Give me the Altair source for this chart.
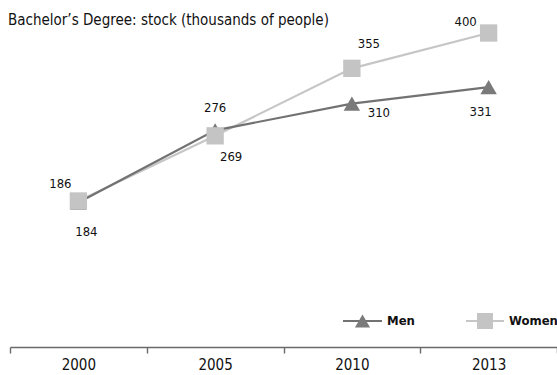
import altair as alt
import pandas as pd

# Bachelor's degree holders, thousands of people
years = ["2000", "2005", "2010", "2013"]
men = [184, 276, 310, 331]
women = [186, 269, 355, 400]

series_names = ["Men", "Women"]
line_colors = {"Men": "#727272", "Women": "#c6c6c6"}
marker_colors = {"Men": "#7a7a7a", "Women": "#c4c4c4"}
marker_shapes = {"Men": "triangle-up", "Women": "square"}
marker_sizes = {"Men": 270, "Women": 300}

# where each value label sits relative to its marker (dx, dy in pixels)
label_offsets = {
    ("Men", "2000"): (8, 29),
    ("Men", "2005"): (0, -22),
    ("Men", "2010"): (27, 9),
    ("Men", "2013"): (-8, 25),
    ("Women", "2000"): (-18, -17),
    ("Women", "2005"): (16, 21),
    ("Women", "2010"): (17, -24),
    ("Women", "2013"): (-23, -11),
}

FONT = "DejaVu Sans Condensed, sans-serif"
TITLE = "Bachelor\u2019s Degree: stock (thousands of people)"

rows = []
for name, vals in (("Men", men), ("Women", women)):
    for yr, v in zip(years, vals):
        rows.append({"year": yr, "series": name, "value": v})
df = pd.DataFrame(rows)

x_enc = alt.X(
    "year:O",
    scale=alt.Scale(type="band", domain=years, paddingInner=0, paddingOuter=0),
    axis=alt.Axis(
        title=None,
        tickBand="extent",
        labelAngle=0,
        labelFont=FONT,
        labelFontSize=15,
        labelColor="#111111",
        labelPadding=4,
        domainColor="#6a6a6a",
        domainWidth=1.6,
        tickColor="#6a6a6a",
        tickWidth=1.4,
        tickSize=6,
        grid=False,
    ),
)
y_enc = alt.Y(
    "value:Q",
    scale=alt.Scale(domain=[0, 400], nice=False, zero=True),
    axis=None,
)

base = alt.Chart(df).encode(x=x_enc, y=y_enc)

layers = []
# lines first, then markers (women's markers on top)
for name in ["Women", "Men"]:
    layers.append(
        base.transform_filter(alt.datum.series == name).mark_line(
            color=line_colors[name], strokeWidth=2.2
        )
    )
for name in ["Men", "Women"]:
    layers.append(
        base.transform_filter(alt.datum.series == name).mark_point(
            shape=marker_shapes[name],
            size=marker_sizes[name],
            filled=True,
            opacity=1,
            color=marker_colors[name],
        )
    )

# value labels
for (name, yr), (dx, dy) in label_offsets.items():
    layers.append(
        base.transform_filter(
            (alt.datum.series == name) & (alt.datum.year == yr)
        )
        .mark_text(
            dx=dx,
            dy=dy,
            font=FONT,
            fontSize=13,
            color="#111111",
        )
        .encode(text="value:Q")
    )

# legend: short line with marker, then series name
legend_df = pd.DataFrame({"series": series_names})
legend_pos = {"Men": (333, 372), "Women": (456, 494)}
legend_y = 321 - 33
for name in series_names:
    x0, x1 = legend_pos[name]
    lg = alt.Chart(legend_df).transform_filter(alt.datum.series == name)
    layers.append(
        lg.mark_rule(color=line_colors[name], strokeWidth=2.2).encode(
            x=alt.value(x0), x2=alt.value(x1), y=alt.value(legend_y)
        )
    )
    layers.append(
        lg.mark_point(
            shape=marker_shapes[name],
            size=marker_sizes[name] * 0.85,
            filled=True,
            opacity=1,
            color=marker_colors[name],
        ).encode(x=alt.value((x0 + x1) / 2), y=alt.value(legend_y))
    )
    layers.append(
        lg.mark_text(
            align="left",
            baseline="middle",
            font=FONT,
            fontSize=13,
            fontWeight="bold",
            color="#111111",
        ).encode(x=alt.value(x1 + 5), y=alt.value(legend_y), text="series:N")
    )

# chart heading, drawn above the plot area
layers.append(
    alt.Chart(pd.DataFrame({"t": [TITLE]}))
    .mark_text(
        align="left",
        baseline="alphabetic",
        font=FONT,
        fontSize=15,
        color="#111111",
    )
    .encode(x=alt.value(-2), y=alt.value(-8), text="t:N")
)

chart = (
    alt.layer(*layers)
    .properties(
        width=547,
        height=314,
        autosize=alt.AutoSizeParams(type="none"),
        padding={"left": 10, "top": 33, "right": 0, "bottom": 28},
    )
    .configure_view(stroke=None)
)

chart.save("out.html", embed_options={"renderer": "svg", "actions": False})
